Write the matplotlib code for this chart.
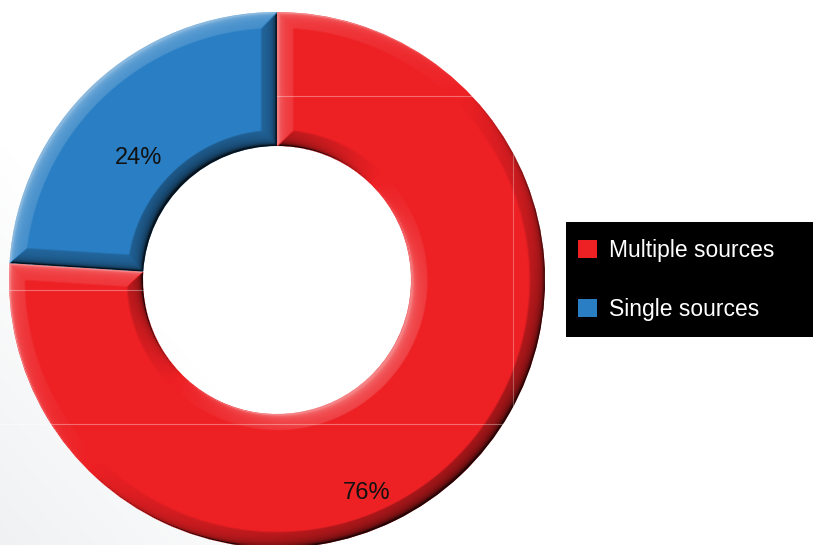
import numpy as np
import matplotlib.pyplot as plt
from matplotlib.patches import Rectangle

# data
labels = ['Multiple sources', 'Single sources']
shares = [76, 24]
pct_text = ['76%', '24%']
colors = ['#ED2024', '#2A7FC4']

W, H = 813, 545
fig = plt.figure(figsize=(W / 100, H / 100), dpi=100)
ax = fig.add_axes([0, 0, 1, 1])
ax.set_xlim(0, W)
ax.set_ylim(0, H)
ax.set_aspect('equal')
ax.axis('off')

# soft grey background at lower left
yy, xx = np.mgrid[0:H, 0:W]
bg = np.clip(1 - (xx / 350 + yy / 400), 0, 1) * 0.06
bg_img = np.dstack([1 - bg, 1 - bg * 0.9, 1 - bg * 0.8])
ax.imshow(bg_img, extent=(0, W, 0, H), origin='lower', zorder=0)

cx, cy = 277, H - 280
R, ring = 268, 134
wedges, _ = ax.pie(shares, colors=colors, startangle=90, counterclock=False,
                   center=(cx, cy), radius=R, frame=True,
                   wedgeprops=dict(width=ring, linewidth=0))
ax.set_xlim(0, W)
ax.set_ylim(0, H)
ax.axis('off')

# bevel shading for each wedge
dx = xx + 0.5 - cx
dy = yy + 0.5 - cy
r = np.hypot(dx, dy)
ang = np.degrees(np.arctan2(dy, dx))
for w in wedges:
    t1, t2 = w.theta1, w.theta2
    a = (ang - t1) % 360
    span = (t2 - t1) % 360 or 360
    d1 = np.radians(np.clip(a, 0, 90))
    d2 = np.radians(np.clip(span - a, 0, 90))
    dist = np.minimum.reduce([R - r, r - (R - ring),
                              r * np.sin(d1), r * np.sin(d2)])
    bw = 16.0
    h = np.sqrt(np.clip(dist / bw, 0, 1))
    gy, gx = np.gradient(h)
    s = (gx + -gy) * bw * 0.5
    s = np.clip(s, -1, 1)
    rgba = np.zeros((H, W, 4))
    rgba[..., :3] = np.where(s[..., None] > 0, 1.0, 0.0)
    rgba[..., 3] = np.where(s > 0, s * 0.45, -s * 0.85)
    im = ax.imshow(rgba, extent=(0, W, 0, H), origin='lower', zorder=2)
    im.set_clip_path(w)

# faint table lines over the ring
ax.plot([277, 545], [H - 96, H - 96], color='white', alpha=0.35, lw=0.8, zorder=3)
ax.plot([0, 545], [H - 424, H - 424], color='white', alpha=0.35, lw=0.8, zorder=3)
ax.plot([0, 143], [H - 290, H - 290], color='white', alpha=0.35, lw=0.8, zorder=3)
ax.plot([513, 513], [H - 424, H - 96], color='white', alpha=0.3, lw=0.8, zorder=3)

# percent labels
label_pos = {'24%': (139, H - 158), '76%': (367, H - 493)}
for txt in pct_text:
    ax.text(*label_pos[txt], txt, ha='center', va='center', fontsize=17,
            family='Liberation Sans', color='#111111', zorder=4)

# legend
ax.add_patch(Rectangle((566, H - 337), 247, 115, facecolor='black',
                       edgecolor='none', zorder=4))
leg = ax.legend(wedges, labels, loc='center left', frameon=False,
                bbox_to_anchor=(578 / W, 1 - 280 / H), bbox_transform=fig.transFigure,
                borderpad=0, borderaxespad=0,
                handlelength=0.85, handleheight=0.85, handletextpad=0.5,
                labelspacing=1.55, prop={'family': 'Liberation Sans', 'size': 16.5})
leg.set_zorder(5)
for t in leg.get_texts():
    t.set_color('white')
for hdl in leg.legend_handles:
    hdl.set_edgecolor('none')

fig.savefig('out.png', dpi=100)
